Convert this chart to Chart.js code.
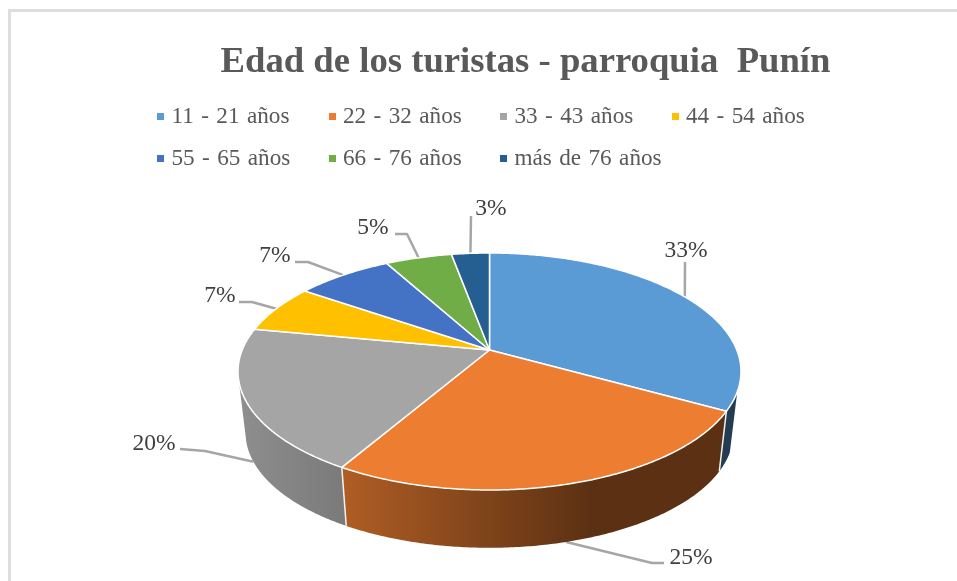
<!DOCTYPE html>
<html lang="es">
<head>
    <meta charset="UTF-8">
    <title>Edad de los turistas - parroquia Punín</title>
    <script src="https://cdn.jsdelivr.net/npm/chart.js"></script>
    <style>
        html, body {
            margin: 0;
            padding: 0;
            background-color: #fff;
            overflow: hidden;
        }

        #wrap {
            position: relative;
            width: 957px;
            height: 581px;
        }

        #frame {
            position: absolute;
            left: 8px;
            top: 9px;
            right: -10px;
            bottom: -10px;
            border: 3px solid #d9d9d9;
            box-sizing: border-box;
            opacity: 0.9;
        }

        canvas {
            position: absolute;
            left: 0;
            top: 0;
        }

        #legend {
            position: absolute;
            left: 157px;
            top: 94px;
            width: 700px;
            display: grid;
            grid-template-columns: repeat(4, 171.5px);
            grid-auto-rows: 42px;
            font-family: "Liberation Serif", serif;
            font-size: 23.2px;
            word-spacing: 1.6px;
            color: #595959;
        }

        #legend div {
            line-height: 42px;
            white-space: nowrap;
        }

        #legend i {
            display: inline-block;
            width: 7px;
            height: 7px;
            margin-right: 7.5px;
            vertical-align: 3px;
        }
    </style>
</head>
<body>
    <div id="wrap">
        <div id="frame"></div>
        <canvas id="pieChart" width="957" height="581"></canvas>
        <div id="legend"></div>
    </div>

    <script>
        const ageGroups = ['11 - 21 años', '22 - 32 años', '33 - 43 años', '44 - 54 años', '55 - 65 años', '66 - 76 años', 'más de 76 años'];
        const shares = [33.1, 25.3, 19.6, 6.6, 7.4, 5.1, 2.9];
        const sliceColors = ['#5b9bd5', '#ed7d31', '#a5a5a5', '#ffc000', '#4472c4', '#70ad47', '#255e91'];

        // where each % label sits and where its leader line bends
        const labelSpots = [[686, 251], [691, 558], [154, 444], [220, 296], [275, 256], [373, 228], [491, 209]];
        const leaderStarts = [[685, 262], [664, 563], [180, 449], [239, 302], [295, 262], [395, 234], [471, 216]];
        const leaderBends = [[685, 262], [652, 563], [205, 451], [252, 302], [308, 262], [407, 234], [471, 216]];

        // tilted pie: a point on the unit circle is projected with a little perspective
        const pie = { x: 489.5, y: 350, rx: 247.3, ry: 114.6, k: 0.1814, depth: 62, shrink: 0.97 };
        // the side wall only shows between these two angles
        const wallFrom = 20 * Math.PI / 180;
        const wallTo = 165 * Math.PI / 180;

        function project(angle, bottom) {
            const u = Math.cos(angle), v = Math.sin(angle);
            const w = 1 - pie.k * v;
            const s = bottom ? pie.shrink : 1;
            return {
                x: pie.x + s * pie.rx * u / w,
                y: pie.y + (bottom ? pie.depth : 0) + s * pie.ry * v / w
            };
        }

        function arcPoints(start, end, bottom) {
            const pts = [];
            const n = Math.max(2, Math.ceil((end - start) / 0.01));
            for (let i = 0; i <= n; i++) {
                pts.push(project(start + (end - start) * i / n, bottom));
            }
            return pts;
        }

        function shade(hex, f) {
            const c = [1, 3, 5].map(i => Math.round(parseInt(hex.substr(i, 2), 16) * f));
            return `rgb(${c[0]},${c[1]},${c[2]})`;
        }

        function wallGradient(ctx, color) {
            const g = ctx.createLinearGradient(240, 0, 740, 0);
            g.addColorStop(0, shade(color, 0.86));
            g.addColorStop(0.21, shade(color, 0.74));
            g.addColorStop(0.7, shade(color, 0.39));
            g.addColorStop(1, shade(color, 0.39));
            return g;
        }

        const pie3d = {
            id: 'pie3d',
            beforeDatasetsDraw(chart) {
                const ctx = chart.ctx;
                const arcs = chart.getDatasetMeta(0).data;
                const total = shares.reduce((a, b) => a + b, 0);
                ctx.save();
                ctx.lineJoin = 'round';

                // leader lines go under the pie, labels on top
                arcs.forEach((arc, i) => {
                    const mid = (arc.startAngle + arc.endAngle) / 2;
                    const end = project(mid, Math.sin(mid) > 0.2);
                    ctx.beginPath();
                    ctx.moveTo(leaderStarts[i][0], leaderStarts[i][1]);
                    ctx.lineTo(leaderBends[i][0], leaderBends[i][1]);
                    ctx.lineTo(end.x, end.y);
                    ctx.strokeStyle = '#a6a6a6';
                    ctx.lineWidth = 2.5;
                    ctx.stroke();
                });

                // side walls
                arcs.forEach((arc, i) => {
                    const from = Math.max(arc.startAngle, wallFrom);
                    const to = Math.min(arc.endAngle, wallTo);
                    if (to <= from) return;
                    const top = arcPoints(from, to, false);
                    const low = arcPoints(from, to, true).reverse();
                    ctx.beginPath();
                    top.concat(low).forEach((p, j) => j ? ctx.lineTo(p.x, p.y) : ctx.moveTo(p.x, p.y));
                    ctx.closePath();
                    ctx.fillStyle = wallGradient(ctx, sliceColors[i]);
                    ctx.fill();
                });
                arcs.forEach(arc => {
                    if (arc.startAngle > wallFrom && arc.startAngle < wallTo) {
                        const a = project(arc.startAngle, false), b = project(arc.startAngle, true);
                        ctx.beginPath();
                        ctx.moveTo(a.x, a.y);
                        ctx.lineTo(b.x, b.y);
                        ctx.strokeStyle = '#f2f2f2';
                        ctx.lineWidth = 1.5;
                        ctx.stroke();
                    }
                });

                // top face
                arcs.forEach((arc, i) => {
                    ctx.beginPath();
                    ctx.moveTo(pie.x, pie.y);
                    arcPoints(arc.startAngle, arc.endAngle, false).forEach(p => ctx.lineTo(p.x, p.y));
                    ctx.closePath();
                    ctx.fillStyle = sliceColors[i];
                    ctx.fill();
                    ctx.strokeStyle = '#fff';
                    ctx.lineWidth = 1.5;
                    ctx.stroke();
                });

                arcs.forEach((arc, i) => {
                    ctx.fillStyle = '#404040';
                    ctx.font = '23.5px "Liberation Serif"';
                    ctx.textAlign = 'center';
                    ctx.textBaseline = 'middle';
                    ctx.fillText(Math.round(shares[i] / total * 100) + '%', labelSpots[i][0], labelSpots[i][1]);
                });
                ctx.restore();
                return false;
            }
        };

        new Chart(document.getElementById('pieChart').getContext('2d'), {
            type: 'pie',
            data: {
                labels: ageGroups,
                datasets: [{ data: shares, backgroundColor: sliceColors }]
            },
            plugins: [pie3d],
            options: {
                responsive: false,
                animation: false,
                layout: { padding: { left: 149, right: 55 } },
                plugins: {
                    legend: { display: false },
                    tooltip: { enabled: false },
                    title: {
                        display: true,
                        text: 'Edad de los turistas - parroquia  Punín',
                        color: '#595959',
                        font: { family: '"Liberation Serif"', size: 36.7, weight: 'bold' },
                        padding: { top: 41, bottom: 10 }
                    }
                }
            }
        });

        // legend in two rows, four columns
        const legendBox = document.getElementById('legend');
        ageGroups.forEach((name, i) => {
            const item = document.createElement('div');
            const box = document.createElement('i');
            box.style.backgroundColor = sliceColors[i];
            item.appendChild(box);
            item.appendChild(document.createTextNode(name));
            legendBox.appendChild(item);
        });
    </script>
</body>
</html>
